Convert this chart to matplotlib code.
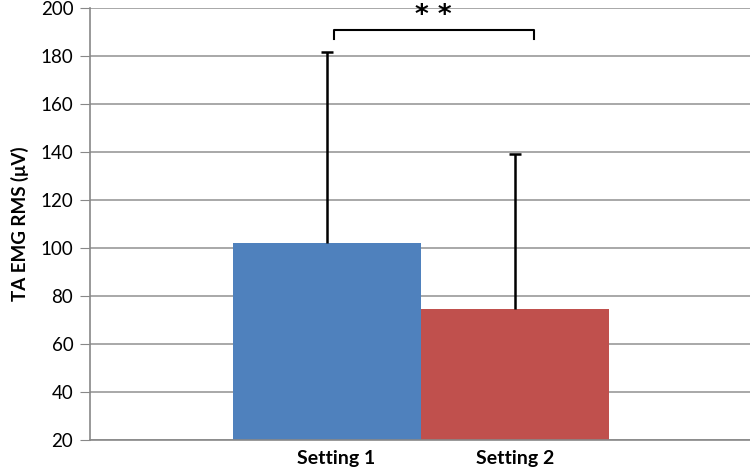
import matplotlib
matplotlib.use("Agg")
import matplotlib.pyplot as plt

settings = ["Setting 1", "Setting 2"]
means = [102, 74.6]
sd_upper = [79.5, 64.5]
colors = ["#4f81bd", "#c0504d"]
yticks = [20, 40, 60, 80, 100, 120, 140, 160, 180, 200]

plt.rcParams['font.family'] = ['Lato', 'DejaVu Sans']

fig = plt.figure(figsize=(7.5, 4.69), dpi=100)
ax = fig.add_axes([0.12, 0.062, 0.88, 0.921])

x = [0, 1]
tops = [m + s for m, s in zip(means, sd_upper)]
ax.bar(x, means, width=1.0, color=colors, zorder=2)
# one-sided error bars (upper only)
ax.vlines(x, means, tops, color='black', lw=1.8, zorder=3)
ax.plot(x, tops, linestyle='none', marker='_', markersize=9, markeredgewidth=1.8,
        color='black', zorder=3)

# significance bracket
bx0, bx1, by, bh = 0.035, 1.1, 190.8, 3.7
ax.plot([bx0, bx0, bx1, bx1], [by - bh, by, by, by - bh], color='black', lw=1.5, zorder=3)
ax.text((bx0 + bx1) / 2, by + 0.3, "* *", ha='center', va='bottom', fontsize=19,
        fontweight='bold', family='DejaVu Sans')

ax.set_ylim(20, 200)
ax.set_xlim(-1.26, 2.25)
ax.set_yticks(yticks)
ax.set_xticks([0.05, 1.0])
ax.set_xticklabels(settings, fontsize=14, fontweight='bold')
ax.tick_params(axis='x', length=0, pad=7)
ax.tick_params(axis='y', labelsize=13.5, length=7, color='#888888', pad=5)
ax.set_ylabel("TA EMG RMS (\u03bcV)", fontsize=13.5, fontweight='bold', labelpad=8)

ax.yaxis.grid(True, color='#999999', lw=1.2, zorder=0)
ax.set_axisbelow(True)
for s in ['top', 'right']:
    ax.spines[s].set_visible(False)
for s in ['left', 'bottom']:
    ax.spines[s].set_color('#888888')
    ax.spines[s].set_linewidth(1.2)

fig.savefig("out.png", dpi=100)
